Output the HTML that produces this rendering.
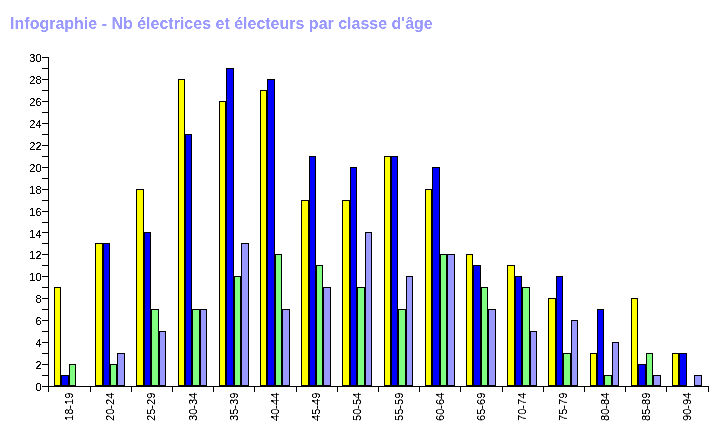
<!DOCTYPE html>
<html><head><meta charset="utf-8"><title>Infographie</title>
<style>html,body{margin:0;padding:0;background:#fff;overflow:hidden}svg{display:block}</style></head>
<body>
<svg width="728" height="429" viewBox="0 0 728 429" shape-rendering="crispEdges">
<rect width="728" height="429" fill="#fff"/>
<defs><filter id="crisp" x="-5%" y="-5%" width="110%" height="110%" color-interpolation-filters="sRGB"><feComponentTransfer><feFuncA type="linear" slope="3" intercept="-0.8"/></feComponentTransfer></filter><filter id="crisp2" x="-2%" y="-20%" width="104%" height="140%" color-interpolation-filters="sRGB"><feComponentTransfer><feFuncA type="linear" slope="2" intercept="-0.5"/></feComponentTransfer></filter></defs>
<text x="10.1" y="28.7" filter="url(#crisp2)" font-family="Liberation Sans, Arial, sans-serif" font-weight="bold" font-size="16" fill="#9999ff">Infographie - Nb électrices et électeurs par classe d'âge</text>
<rect x="54" y="287" width="7" height="99" fill="#000"/>
<rect x="55" y="288" width="5" height="97" fill="#ffff00"/>
<rect x="61" y="375" width="8" height="11" fill="#000"/>
<rect x="62" y="376" width="6" height="9" fill="#0000ff"/>
<rect x="69" y="364" width="7" height="22" fill="#000"/>
<rect x="70" y="365" width="5" height="20" fill="#80ff80"/>
<rect x="95" y="243" width="8" height="143" fill="#000"/>
<rect x="96" y="244" width="6" height="141" fill="#ffff00"/>
<rect x="103" y="243" width="7" height="143" fill="#000"/>
<rect x="104" y="244" width="5" height="141" fill="#0000ff"/>
<rect x="110" y="364" width="7" height="22" fill="#000"/>
<rect x="111" y="365" width="5" height="20" fill="#80ff80"/>
<rect x="117" y="353" width="8" height="33" fill="#000"/>
<rect x="118" y="354" width="6" height="31" fill="#9999ff"/>
<rect x="136" y="189" width="8" height="197" fill="#000"/>
<rect x="137" y="190" width="6" height="195" fill="#ffff00"/>
<rect x="144" y="232" width="7" height="154" fill="#000"/>
<rect x="145" y="233" width="5" height="152" fill="#0000ff"/>
<rect x="151" y="309" width="8" height="77" fill="#000"/>
<rect x="152" y="310" width="6" height="75" fill="#80ff80"/>
<rect x="159" y="331" width="7" height="55" fill="#000"/>
<rect x="160" y="332" width="5" height="53" fill="#9999ff"/>
<rect x="178" y="79" width="7" height="307" fill="#000"/>
<rect x="179" y="80" width="5" height="305" fill="#ffff00"/>
<rect x="185" y="134" width="7" height="252" fill="#000"/>
<rect x="186" y="135" width="5" height="250" fill="#0000ff"/>
<rect x="192" y="309" width="8" height="77" fill="#000"/>
<rect x="193" y="310" width="6" height="75" fill="#80ff80"/>
<rect x="200" y="309" width="7" height="77" fill="#000"/>
<rect x="201" y="310" width="5" height="75" fill="#9999ff"/>
<rect x="219" y="101" width="7" height="285" fill="#000"/>
<rect x="220" y="102" width="5" height="283" fill="#ffff00"/>
<rect x="226" y="68" width="8" height="318" fill="#000"/>
<rect x="227" y="69" width="6" height="316" fill="#0000ff"/>
<rect x="234" y="276" width="7" height="110" fill="#000"/>
<rect x="235" y="277" width="5" height="108" fill="#80ff80"/>
<rect x="241" y="243" width="8" height="143" fill="#000"/>
<rect x="242" y="244" width="6" height="141" fill="#9999ff"/>
<rect x="260" y="90" width="7" height="296" fill="#000"/>
<rect x="261" y="91" width="5" height="294" fill="#ffff00"/>
<rect x="267" y="79" width="8" height="307" fill="#000"/>
<rect x="268" y="80" width="6" height="305" fill="#0000ff"/>
<rect x="275" y="254" width="7" height="132" fill="#000"/>
<rect x="276" y="255" width="5" height="130" fill="#80ff80"/>
<rect x="282" y="309" width="8" height="77" fill="#000"/>
<rect x="283" y="310" width="6" height="75" fill="#9999ff"/>
<rect x="301" y="200" width="8" height="186" fill="#000"/>
<rect x="302" y="201" width="6" height="184" fill="#ffff00"/>
<rect x="309" y="156" width="7" height="230" fill="#000"/>
<rect x="310" y="157" width="5" height="228" fill="#0000ff"/>
<rect x="316" y="265" width="7" height="121" fill="#000"/>
<rect x="317" y="266" width="5" height="119" fill="#80ff80"/>
<rect x="323" y="287" width="8" height="99" fill="#000"/>
<rect x="324" y="288" width="6" height="97" fill="#9999ff"/>
<rect x="342" y="200" width="8" height="186" fill="#000"/>
<rect x="343" y="201" width="6" height="184" fill="#ffff00"/>
<rect x="350" y="167" width="7" height="219" fill="#000"/>
<rect x="351" y="168" width="5" height="217" fill="#0000ff"/>
<rect x="357" y="287" width="8" height="99" fill="#000"/>
<rect x="358" y="288" width="6" height="97" fill="#80ff80"/>
<rect x="365" y="232" width="7" height="154" fill="#000"/>
<rect x="366" y="233" width="5" height="152" fill="#9999ff"/>
<rect x="384" y="156" width="7" height="230" fill="#000"/>
<rect x="385" y="157" width="5" height="228" fill="#ffff00"/>
<rect x="391" y="156" width="7" height="230" fill="#000"/>
<rect x="392" y="157" width="5" height="228" fill="#0000ff"/>
<rect x="398" y="309" width="8" height="77" fill="#000"/>
<rect x="399" y="310" width="6" height="75" fill="#80ff80"/>
<rect x="406" y="276" width="7" height="110" fill="#000"/>
<rect x="407" y="277" width="5" height="108" fill="#9999ff"/>
<rect x="425" y="189" width="7" height="197" fill="#000"/>
<rect x="426" y="190" width="5" height="195" fill="#ffff00"/>
<rect x="432" y="167" width="8" height="219" fill="#000"/>
<rect x="433" y="168" width="6" height="217" fill="#0000ff"/>
<rect x="440" y="254" width="7" height="132" fill="#000"/>
<rect x="441" y="255" width="5" height="130" fill="#80ff80"/>
<rect x="447" y="254" width="8" height="132" fill="#000"/>
<rect x="448" y="255" width="6" height="130" fill="#9999ff"/>
<rect x="466" y="254" width="7" height="132" fill="#000"/>
<rect x="467" y="255" width="5" height="130" fill="#ffff00"/>
<rect x="473" y="265" width="8" height="121" fill="#000"/>
<rect x="474" y="266" width="6" height="119" fill="#0000ff"/>
<rect x="481" y="287" width="7" height="99" fill="#000"/>
<rect x="482" y="288" width="5" height="97" fill="#80ff80"/>
<rect x="488" y="309" width="8" height="77" fill="#000"/>
<rect x="489" y="310" width="6" height="75" fill="#9999ff"/>
<rect x="507" y="265" width="8" height="121" fill="#000"/>
<rect x="508" y="266" width="6" height="119" fill="#ffff00"/>
<rect x="515" y="276" width="7" height="110" fill="#000"/>
<rect x="516" y="277" width="5" height="108" fill="#0000ff"/>
<rect x="522" y="287" width="8" height="99" fill="#000"/>
<rect x="523" y="288" width="6" height="97" fill="#80ff80"/>
<rect x="530" y="331" width="7" height="55" fill="#000"/>
<rect x="531" y="332" width="5" height="53" fill="#9999ff"/>
<rect x="548" y="298" width="8" height="88" fill="#000"/>
<rect x="549" y="299" width="6" height="86" fill="#ffff00"/>
<rect x="556" y="276" width="7" height="110" fill="#000"/>
<rect x="557" y="277" width="5" height="108" fill="#0000ff"/>
<rect x="563" y="353" width="8" height="33" fill="#000"/>
<rect x="564" y="354" width="6" height="31" fill="#80ff80"/>
<rect x="571" y="320" width="7" height="66" fill="#000"/>
<rect x="572" y="321" width="5" height="64" fill="#9999ff"/>
<rect x="590" y="353" width="7" height="33" fill="#000"/>
<rect x="591" y="354" width="5" height="31" fill="#ffff00"/>
<rect x="597" y="309" width="7" height="77" fill="#000"/>
<rect x="598" y="310" width="5" height="75" fill="#0000ff"/>
<rect x="604" y="375" width="8" height="11" fill="#000"/>
<rect x="605" y="376" width="6" height="9" fill="#80ff80"/>
<rect x="612" y="342" width="7" height="44" fill="#000"/>
<rect x="613" y="343" width="5" height="42" fill="#9999ff"/>
<rect x="631" y="298" width="7" height="88" fill="#000"/>
<rect x="632" y="299" width="5" height="86" fill="#ffff00"/>
<rect x="638" y="364" width="8" height="22" fill="#000"/>
<rect x="639" y="365" width="6" height="20" fill="#0000ff"/>
<rect x="646" y="353" width="7" height="33" fill="#000"/>
<rect x="647" y="354" width="5" height="31" fill="#80ff80"/>
<rect x="653" y="375" width="8" height="11" fill="#000"/>
<rect x="654" y="376" width="6" height="9" fill="#9999ff"/>
<rect x="672" y="353" width="7" height="33" fill="#000"/>
<rect x="673" y="354" width="5" height="31" fill="#ffff00"/>
<rect x="679" y="353" width="8" height="33" fill="#000"/>
<rect x="680" y="354" width="6" height="31" fill="#0000ff"/>
<rect x="694" y="375" width="8" height="11" fill="#000"/>
<rect x="695" y="376" width="6" height="9" fill="#9999ff"/>
<rect x="48" y="57" width="1" height="330" fill="#000"/>
<rect x="48" y="386" width="661" height="1" fill="#000"/>
<rect x="42" y="386" width="6" height="1" fill="#000"/>
<text x="41.6" y="391" text-anchor="end" font-family="Liberation Sans, Arial, sans-serif" font-size="11" fill="#000" filter="url(#crisp)">0</text>
<rect x="42" y="375" width="6" height="1" fill="#000"/>
<rect x="42" y="364" width="6" height="1" fill="#000"/>
<text x="41.6" y="369" text-anchor="end" font-family="Liberation Sans, Arial, sans-serif" font-size="11" fill="#000" filter="url(#crisp)">2</text>
<rect x="42" y="353" width="6" height="1" fill="#000"/>
<rect x="42" y="342" width="6" height="1" fill="#000"/>
<text x="41.6" y="347" text-anchor="end" font-family="Liberation Sans, Arial, sans-serif" font-size="11" fill="#000" filter="url(#crisp)">4</text>
<rect x="42" y="331" width="6" height="1" fill="#000"/>
<rect x="42" y="320" width="6" height="1" fill="#000"/>
<text x="41.6" y="325" text-anchor="end" font-family="Liberation Sans, Arial, sans-serif" font-size="11" fill="#000" filter="url(#crisp)">6</text>
<rect x="42" y="309" width="6" height="1" fill="#000"/>
<rect x="42" y="298" width="6" height="1" fill="#000"/>
<text x="41.6" y="303" text-anchor="end" font-family="Liberation Sans, Arial, sans-serif" font-size="11" fill="#000" filter="url(#crisp)">8</text>
<rect x="42" y="287" width="6" height="1" fill="#000"/>
<rect x="42" y="276" width="6" height="1" fill="#000"/>
<text x="41.6" y="281" text-anchor="end" font-family="Liberation Sans, Arial, sans-serif" font-size="11" fill="#000" filter="url(#crisp)">10</text>
<rect x="42" y="265" width="6" height="1" fill="#000"/>
<rect x="42" y="254" width="6" height="1" fill="#000"/>
<text x="41.6" y="259" text-anchor="end" font-family="Liberation Sans, Arial, sans-serif" font-size="11" fill="#000" filter="url(#crisp)">12</text>
<rect x="42" y="243" width="6" height="1" fill="#000"/>
<rect x="42" y="232" width="6" height="1" fill="#000"/>
<text x="41.6" y="238" text-anchor="end" font-family="Liberation Sans, Arial, sans-serif" font-size="11" fill="#000" filter="url(#crisp)">14</text>
<rect x="42" y="222" width="6" height="1" fill="#000"/>
<rect x="42" y="211" width="6" height="1" fill="#000"/>
<text x="41.6" y="216" text-anchor="end" font-family="Liberation Sans, Arial, sans-serif" font-size="11" fill="#000" filter="url(#crisp)">16</text>
<rect x="42" y="200" width="6" height="1" fill="#000"/>
<rect x="42" y="189" width="6" height="1" fill="#000"/>
<text x="41.6" y="194" text-anchor="end" font-family="Liberation Sans, Arial, sans-serif" font-size="11" fill="#000" filter="url(#crisp)">18</text>
<rect x="42" y="178" width="6" height="1" fill="#000"/>
<rect x="42" y="167" width="6" height="1" fill="#000"/>
<text x="41.6" y="172" text-anchor="end" font-family="Liberation Sans, Arial, sans-serif" font-size="11" fill="#000" filter="url(#crisp)">20</text>
<rect x="42" y="156" width="6" height="1" fill="#000"/>
<rect x="42" y="145" width="6" height="1" fill="#000"/>
<text x="41.6" y="150" text-anchor="end" font-family="Liberation Sans, Arial, sans-serif" font-size="11" fill="#000" filter="url(#crisp)">22</text>
<rect x="42" y="134" width="6" height="1" fill="#000"/>
<rect x="42" y="123" width="6" height="1" fill="#000"/>
<text x="41.6" y="128" text-anchor="end" font-family="Liberation Sans, Arial, sans-serif" font-size="11" fill="#000" filter="url(#crisp)">24</text>
<rect x="42" y="112" width="6" height="1" fill="#000"/>
<rect x="42" y="101" width="6" height="1" fill="#000"/>
<text x="41.6" y="106" text-anchor="end" font-family="Liberation Sans, Arial, sans-serif" font-size="11" fill="#000" filter="url(#crisp)">26</text>
<rect x="42" y="90" width="6" height="1" fill="#000"/>
<rect x="42" y="79" width="6" height="1" fill="#000"/>
<text x="41.6" y="84" text-anchor="end" font-family="Liberation Sans, Arial, sans-serif" font-size="11" fill="#000" filter="url(#crisp)">28</text>
<rect x="42" y="68" width="6" height="1" fill="#000"/>
<rect x="42" y="57" width="6" height="1" fill="#000"/>
<text x="41.6" y="62" text-anchor="end" font-family="Liberation Sans, Arial, sans-serif" font-size="11" fill="#000" filter="url(#crisp)">30</text>
<rect x="48" y="386" width="1" height="6" fill="#000"/>
<rect x="90" y="386" width="1" height="6" fill="#000"/>
<rect x="131" y="386" width="1" height="6" fill="#000"/>
<rect x="172" y="386" width="1" height="6" fill="#000"/>
<rect x="213" y="386" width="1" height="6" fill="#000"/>
<rect x="254" y="386" width="1" height="6" fill="#000"/>
<rect x="296" y="386" width="1" height="6" fill="#000"/>
<rect x="337" y="386" width="1" height="6" fill="#000"/>
<rect x="378" y="386" width="1" height="6" fill="#000"/>
<rect x="419" y="386" width="1" height="6" fill="#000"/>
<rect x="460" y="386" width="1" height="6" fill="#000"/>
<rect x="502" y="386" width="1" height="6" fill="#000"/>
<rect x="543" y="386" width="1" height="6" fill="#000"/>
<rect x="584" y="386" width="1" height="6" fill="#000"/>
<rect x="625" y="386" width="1" height="6" fill="#000"/>
<rect x="666" y="386" width="1" height="6" fill="#000"/>
<rect x="708" y="386" width="1" height="6" fill="#000"/>
<text transform="translate(73,392.6) rotate(-90)" text-anchor="end" font-family="Liberation Sans, Arial, sans-serif" font-size="11" fill="#000" filter="url(#crisp)">18-19</text>
<text transform="translate(114,392.6) rotate(-90)" text-anchor="end" font-family="Liberation Sans, Arial, sans-serif" font-size="11" fill="#000" filter="url(#crisp)">20-24</text>
<text transform="translate(155,392.6) rotate(-90)" text-anchor="end" font-family="Liberation Sans, Arial, sans-serif" font-size="11" fill="#000" filter="url(#crisp)">25-29</text>
<text transform="translate(197,392.6) rotate(-90)" text-anchor="end" font-family="Liberation Sans, Arial, sans-serif" font-size="11" fill="#000" filter="url(#crisp)">30-34</text>
<text transform="translate(238,392.6) rotate(-90)" text-anchor="end" font-family="Liberation Sans, Arial, sans-serif" font-size="11" fill="#000" filter="url(#crisp)">35-39</text>
<text transform="translate(279,392.6) rotate(-90)" text-anchor="end" font-family="Liberation Sans, Arial, sans-serif" font-size="11" fill="#000" filter="url(#crisp)">40-44</text>
<text transform="translate(320,392.6) rotate(-90)" text-anchor="end" font-family="Liberation Sans, Arial, sans-serif" font-size="11" fill="#000" filter="url(#crisp)">45-49</text>
<text transform="translate(361,392.6) rotate(-90)" text-anchor="end" font-family="Liberation Sans, Arial, sans-serif" font-size="11" fill="#000" filter="url(#crisp)">50-54</text>
<text transform="translate(403,392.6) rotate(-90)" text-anchor="end" font-family="Liberation Sans, Arial, sans-serif" font-size="11" fill="#000" filter="url(#crisp)">55-59</text>
<text transform="translate(444,392.6) rotate(-90)" text-anchor="end" font-family="Liberation Sans, Arial, sans-serif" font-size="11" fill="#000" filter="url(#crisp)">60-64</text>
<text transform="translate(485,392.6) rotate(-90)" text-anchor="end" font-family="Liberation Sans, Arial, sans-serif" font-size="11" fill="#000" filter="url(#crisp)">65-69</text>
<text transform="translate(526,392.6) rotate(-90)" text-anchor="end" font-family="Liberation Sans, Arial, sans-serif" font-size="11" fill="#000" filter="url(#crisp)">70-74</text>
<text transform="translate(567,392.6) rotate(-90)" text-anchor="end" font-family="Liberation Sans, Arial, sans-serif" font-size="11" fill="#000" filter="url(#crisp)">75-79</text>
<text transform="translate(609,392.6) rotate(-90)" text-anchor="end" font-family="Liberation Sans, Arial, sans-serif" font-size="11" fill="#000" filter="url(#crisp)">80-84</text>
<text transform="translate(650,392.6) rotate(-90)" text-anchor="end" font-family="Liberation Sans, Arial, sans-serif" font-size="11" fill="#000" filter="url(#crisp)">85-89</text>
<text transform="translate(691,392.6) rotate(-90)" text-anchor="end" font-family="Liberation Sans, Arial, sans-serif" font-size="11" fill="#000" filter="url(#crisp)">90-94</text>
</svg>
</body></html>
